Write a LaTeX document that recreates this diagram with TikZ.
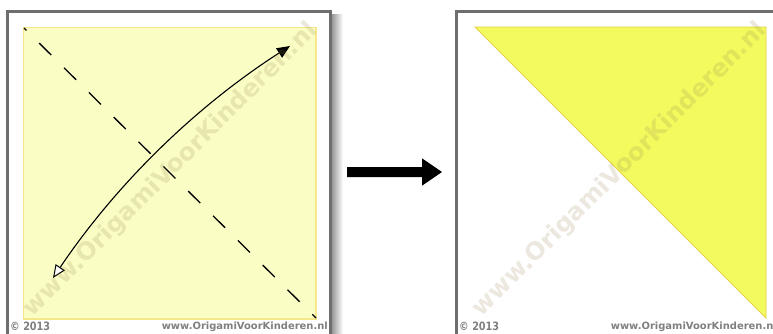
\documentclass[tikz,border=0pt]{standalone}
\usepackage{fontspec}
\setsansfont{DejaVu Sans}
\usetikzlibrary{arrows.meta}
\definecolor{framegrey}{HTML}{6E6E6E}
\definecolor{paleyellow}{HTML}{FAFDC4}
\definecolor{paleborder}{HTML}{F6E88A}
\definecolor{brightyellow}{HTML}{F2FA5E}
\definecolor{brightborder}{HTML}{E3D24A}
\definecolor{wmcolor}{RGB}{150,130,80}
\definecolor{footgrey}{HTML}{808080}
\tikzset{
  panelframe/.style={draw=framegrey, line width=3pt},
  foldline/.style={line width=1.3pt, dash pattern=on 17pt off 18pt, dash phase=13.6pt},
  movearrow/.style={line width=1.1pt,
    {Triangle[length=13pt,width=11pt,fill=white,line width=1pt]}-{Triangle[length=13pt,width=11pt]}},
  watermark/.style={rotate=45, text=wmcolor, text opacity=0.18, font=\sffamily\bfseries, inner sep=0pt},
  footer/.style={text=footgrey, font=\sffamily\bfseries, inner sep=0pt}
}
\begin{document}
\begin{tikzpicture}[x=1pt,y=-1pt]
\useasboundingbox (0,0) rectangle (773,333);
\clip (0,0) rectangle (773,333);
\fill[white] (0,0) rectangle (773,333);
% shadows of frames
\shade[left color=black!40, right color=white] (332,14) rectangle (343,333);
% left panel
\draw[panelframe] (7.5,11.5) rectangle (330.5,345);
\filldraw[fill=paleyellow, draw=paleborder, line width=1.2pt] (23.5,27.5) rectangle (316,319);
\coordinate (dA) at (24,28);
\coordinate (dB) at (316,318);
\draw[foldline] (dA) -- (dB);
\coordinate (cA) at (53,278);
\coordinate (cB) at (290,46);
\draw[movearrow] (cA) .. controls (116,184.5) and (195,107) .. (cB);
\node[watermark] (wm1) at (171,170) {\resizebox{404pt}{!}{www.OrigamiVoorKinderen.nl}};
\node[footer, anchor=west] (c1) at (10,326.5) {\resizebox{40pt}{8.5pt}{© 2013}};
\node[footer, anchor=east] (u1) at (328,326.5) {\resizebox{166pt}{!}{www.OrigamiVoorKinderen.nl}};
% middle arrow
\fill (347,167) -- (422,167) -- (422,158.3) -- (442,172) -- (422,185.7) -- (422,177) -- (347,177) -- cycle;
% right panel
\draw[panelframe] (456.5,11.5) rectangle (800,345);
\coordinate (t1) at (475,27);
\coordinate (t2) at (766,27);
\coordinate (t3) at (766,318);
\filldraw[fill=brightyellow, draw=brightborder, line width=0.8pt] (t1) -- (t2) -- (t3) -- cycle;
\node[watermark] (wm2) at (620,170) {\resizebox{404pt}{!}{www.OrigamiVoorKinderen.nl}};
\node[footer, anchor=west] (c2) at (459,326.5) {\resizebox{40pt}{8.5pt}{© 2013}};
\node[footer, anchor=east] (u2) at (777,326.5) {\resizebox{166pt}{!}{www.OrigamiVoorKinderen.nl}};
\end{tikzpicture}
\end{document}
